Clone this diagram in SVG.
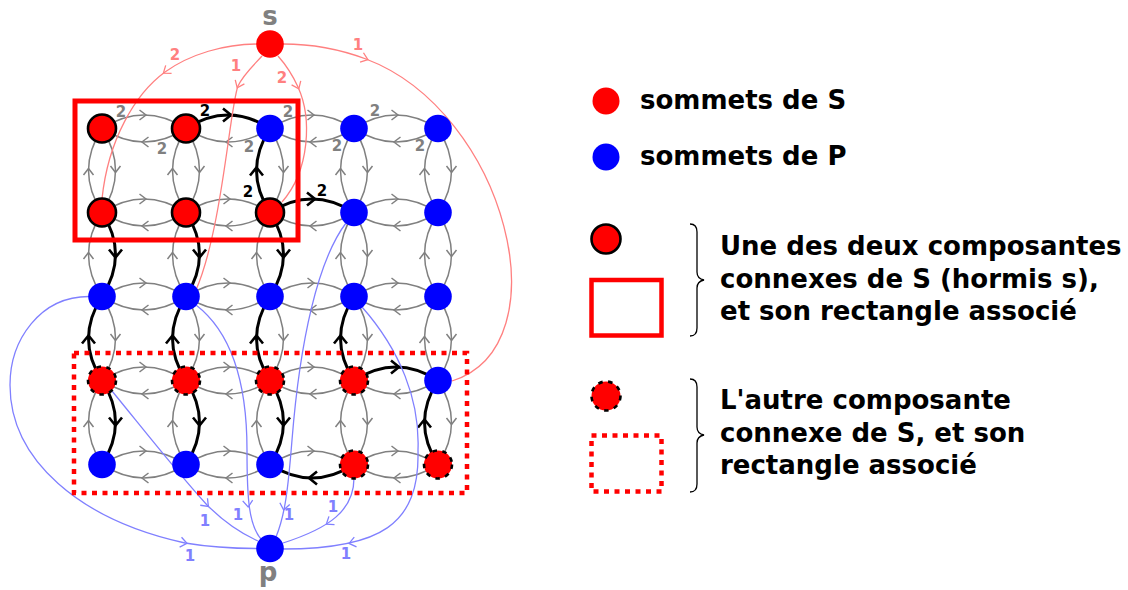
<svg xmlns="http://www.w3.org/2000/svg" xmlns:xlink="http://www.w3.org/1999/xlink" width="1128" height="590" viewBox="0 0 1128 590">
<style>
text{font-family:"DejaVu Sans","Liberation Sans",sans-serif;font-weight:bold}
.g{fill:none;stroke:#808080;stroke-width:1.5;marker-mid:url(#mg)}
.k{fill:none;stroke:#000;stroke-width:3;marker-mid:url(#mk)}
.rs{fill:none;stroke:#ff8080;stroke-width:1.3}
.bs{fill:none;stroke:#8080ff;stroke-width:1.3}
.lg{font-size:15px;fill:#808080;text-anchor:middle}
.lk{font-size:15px;fill:#000;text-anchor:middle}
.lr{font-size:15px;fill:#ff8080;text-anchor:middle}
.lb{font-size:15px;fill:#8080ff;text-anchor:middle}
.red{fill:#ff0000}
.blue{fill:#0000ff}
.solid{stroke:#000;stroke-width:2.6}
.dash{stroke:#000;stroke-width:2.6;stroke-dasharray:4.5 5.5}
.big{font-size:26px;fill:#000}
.name{font-size:26px;fill:#808080;text-anchor:middle}
</style>
<defs>
<marker id="mg" viewBox="-8 -8 16 16" markerWidth="16" markerHeight="16" refX="0" refY="0" markerUnits="userSpaceOnUse" orient="auto"><path d="M-4.5,-5 L2,0 L-4.5,5" fill="none" stroke="#808080" stroke-width="1.5"/></marker>
<marker id="mk" viewBox="-10 -10 20 20" markerWidth="20" markerHeight="20" refX="0" refY="0" markerUnits="userSpaceOnUse" orient="auto"><path d="M-5,-6.5 L3,0 L-5,6.5" fill="none" stroke="#000" stroke-width="2.6"/></marker>
<path id="chev" d="M-4.5,-5 L2,0 L-4.5,5" fill="none" stroke-width="1.3"/>
</defs>
<rect width="1128" height="590" fill="#fff"/>

<g id="connectors">
<!-- row 1 horizontals -->
<path class="g" d="M102,128.5 Q123,115 144,115 Q165,115 186,128.5"/>
<path class="k" d="M186,128.5 Q207,115 228,115 Q249,115 270,128.5"/>
<path class="g" d="M270,128.5 Q291,115 312,115 Q333,115 354,128.5"/>
<path class="g" d="M354,128.5 Q375,115 396,115 Q417,115 438,128.5"/>
<path class="g" d="M186,128.5 Q165,142 144,142 Q123,142 102,128.5"/>
<path class="g" d="M270,128.5 Q249,142 228,142 Q207,142 186,128.5"/>
<path class="g" d="M354,128.5 Q333,142 312,142 Q291,142 270,128.5"/>
<path class="g" d="M438,128.5 Q417,142 396,142 Q375,142 354,128.5"/>
<!-- row 2 -->
<path class="g" d="M102,212.5 Q123,199 144,199 Q165,199 186,212.5"/>
<path class="g" d="M186,212.5 Q207,199 228,199 Q249,199 270,212.5"/>
<path class="k" d="M270,212.5 Q291,199 312,199 Q333,199 354,212.5"/>
<path class="g" d="M354,212.5 Q375,199 396,199 Q417,199 438,212.5"/>
<path class="g" d="M186,212.5 Q165,226 144,226 Q123,226 102,212.5"/>
<path class="g" d="M270,212.5 Q249,226 228,226 Q207,226 186,212.5"/>
<path class="g" d="M354,212.5 Q333,226 312,226 Q291,226 270,212.5"/>
<path class="g" d="M438,212.5 Q417,226 396,226 Q375,226 354,212.5"/>
<!-- row 3 -->
<path class="g" d="M102,296.5 Q123,283 144,283 Q165,283 186,296.5"/>
<path class="g" d="M186,296.5 Q207,283 228,283 Q249,283 270,296.5"/>
<path class="g" d="M270,296.5 Q291,283 312,283 Q333,283 354,296.5"/>
<path class="g" d="M354,296.5 Q375,283 396,283 Q417,283 438,296.5"/>
<path class="g" d="M186,296.5 Q165,310 144,310 Q123,310 102,296.5"/>
<path class="g" d="M270,296.5 Q249,310 228,310 Q207,310 186,296.5"/>
<path class="g" d="M354,296.5 Q333,310 312,310 Q291,310 270,296.5"/>
<path class="g" d="M438,296.5 Q417,310 396,310 Q375,310 354,296.5"/>
<!-- row 4 -->
<path class="g" d="M102,380.5 Q123,367 144,367 Q165,367 186,380.5"/>
<path class="g" d="M186,380.5 Q207,367 228,367 Q249,367 270,380.5"/>
<path class="g" d="M270,380.5 Q291,367 312,367 Q333,367 354,380.5"/>
<path class="k" d="M354,380.5 Q375,367 396,367 Q417,367 438,380.5"/>
<path class="g" d="M186,380.5 Q165,394 144,394 Q123,394 102,380.5"/>
<path class="g" d="M270,380.5 Q249,394 228,394 Q207,394 186,380.5"/>
<path class="g" d="M354,380.5 Q333,394 312,394 Q291,394 270,380.5"/>
<path class="g" d="M438,380.5 Q417,394 396,394 Q375,394 354,380.5"/>
<!-- row 5 -->
<path class="g" d="M102,464.5 Q123,451 144,451 Q165,451 186,464.5"/>
<path class="g" d="M186,464.5 Q207,451 228,451 Q249,451 270,464.5"/>
<path class="g" d="M270,464.5 Q291,451 312,451 Q333,451 354,464.5"/>
<path class="g" d="M354,464.5 Q375,451 396,451 Q417,451 438,464.5"/>
<path class="g" d="M186,464.5 Q165,478 144,478 Q123,478 102,464.5"/>
<path class="g" d="M270,464.5 Q249,478 228,478 Q207,478 186,464.5"/>
<path class="k" d="M354,464.5 Q333,478 312,478 Q291,478 270,464.5"/>
<path class="g" d="M438,464.5 Q417,478 396,478 Q375,478 354,464.5"/>

<!-- verticals gap 1 -->
<path class="g" d="M102,212.5 Q88.5,191.5 88.5,170.5 Q88.5,149.5 102,128.5"/>
<path class="g" d="M102,128.5 Q115.5,149.5 115.5,170.5 Q115.5,191.5 102,212.5"/>
<path class="g" d="M186,212.5 Q172.5,191.5 172.5,170.5 Q172.5,149.5 186,128.5"/>
<path class="g" d="M186,128.5 Q199.5,149.5 199.5,170.5 Q199.5,191.5 186,212.5"/>
<path class="k" d="M270,212.5 Q256.5,191.5 256.5,170.5 Q256.5,149.5 270,128.5"/>
<path class="g" d="M270,128.5 Q283.5,149.5 283.5,170.5 Q283.5,191.5 270,212.5"/>
<path class="g" d="M354,212.5 Q340.5,191.5 340.5,170.5 Q340.5,149.5 354,128.5"/>
<path class="g" d="M354,128.5 Q367.5,149.5 367.5,170.5 Q367.5,191.5 354,212.5"/>
<path class="g" d="M438,212.5 Q424.5,191.5 424.5,170.5 Q424.5,149.5 438,128.5"/>
<path class="g" d="M438,128.5 Q451.5,149.5 451.5,170.5 Q451.5,191.5 438,212.5"/>
<!-- gap 2 -->
<path class="g" d="M102,296.5 Q88.5,275.5 88.5,254.5 Q88.5,233.5 102,212.5"/>
<path class="k" d="M102,212.5 Q115.5,233.5 115.5,254.5 Q115.5,275.5 102,296.5"/>
<path class="g" d="M186,296.5 Q172.5,275.5 172.5,254.5 Q172.5,233.5 186,212.5"/>
<path class="k" d="M186,212.5 Q199.5,233.5 199.5,254.5 Q199.5,275.5 186,296.5"/>
<path class="g" d="M270,296.5 Q256.5,275.5 256.5,254.5 Q256.5,233.5 270,212.5"/>
<path class="k" d="M270,212.5 Q283.5,233.5 283.5,254.5 Q283.5,275.5 270,296.5"/>
<path class="g" d="M354,296.5 Q340.5,275.5 340.5,254.5 Q340.5,233.5 354,212.5"/>
<path class="g" d="M354,212.5 Q367.5,233.5 367.5,254.5 Q367.5,275.5 354,296.5"/>
<path class="g" d="M438,296.5 Q424.5,275.5 424.5,254.5 Q424.5,233.5 438,212.5"/>
<path class="g" d="M438,212.5 Q451.5,233.5 451.5,254.5 Q451.5,275.5 438,296.5"/>
<!-- gap 3 -->
<path class="k" d="M102,380.5 Q88.5,359.5 88.5,338.5 Q88.5,317.5 102,296.5"/>
<path class="g" d="M102,296.5 Q115.5,317.5 115.5,338.5 Q115.5,359.5 102,380.5"/>
<path class="k" d="M186,380.5 Q172.5,359.5 172.5,338.5 Q172.5,317.5 186,296.5"/>
<path class="g" d="M186,296.5 Q199.5,317.5 199.5,338.5 Q199.5,359.5 186,380.5"/>
<path class="k" d="M270,380.5 Q256.5,359.5 256.5,338.5 Q256.5,317.5 270,296.5"/>
<path class="g" d="M270,296.5 Q283.5,317.5 283.5,338.5 Q283.5,359.5 270,380.5"/>
<path class="k" d="M354,380.5 Q340.5,359.5 340.5,338.5 Q340.5,317.5 354,296.5"/>
<path class="g" d="M354,296.5 Q367.5,317.5 367.5,338.5 Q367.5,359.5 354,380.5"/>
<path class="g" d="M438,380.5 Q424.5,359.5 424.5,338.5 Q424.5,317.5 438,296.5"/>
<path class="g" d="M438,296.5 Q451.5,317.5 451.5,338.5 Q451.5,359.5 438,380.5"/>
<!-- gap 4 -->
<path class="g" d="M102,464.5 Q88.5,443.5 88.5,422.5 Q88.5,401.5 102,380.5"/>
<path class="k" d="M102,380.5 Q115.5,401.5 115.5,422.5 Q115.5,443.5 102,464.5"/>
<path class="g" d="M186,464.5 Q172.5,443.5 172.5,422.5 Q172.5,401.5 186,380.5"/>
<path class="k" d="M186,380.5 Q199.5,401.5 199.5,422.5 Q199.5,443.5 186,464.5"/>
<path class="g" d="M270,464.5 Q256.5,443.5 256.5,422.5 Q256.5,401.5 270,380.5"/>
<path class="k" d="M270,380.5 Q283.5,401.5 283.5,422.5 Q283.5,443.5 270,464.5"/>
<path class="g" d="M354,464.5 Q340.5,443.5 340.5,422.5 Q340.5,401.5 354,380.5"/>
<path class="g" d="M354,380.5 Q367.5,401.5 367.5,422.5 Q367.5,443.5 354,464.5"/>
<path class="k" d="M438,464.5 Q424.5,443.5 424.5,422.5 Q424.5,401.5 438,380.5"/>
<path class="g" d="M438,380.5 Q451.5,401.5 451.5,422.5 Q451.5,443.5 438,464.5"/>

<!-- arcs from s -->
<path class="rs" d="M257,44 C225,44 190,54 165,72 C135,94 108,140 102,199"/>
<path class="rs" d="M262,56 C252,67 243,75 238,86 C230,106 222,230 196,290"/>
<path class="rs" d="M278,56 C286,65 293,76 298,87 C312,118 310,170 282,202"/>
<path class="rs" d="M283,44 C315,44 342,50 366,59 C506,112 565,345 452,381"/>
<use xlink:href="#chev" href="#chev" stroke="#ff8080" transform="translate(165,72) rotate(144)"/>
<use xlink:href="#chev" href="#chev" stroke="#ff8080" transform="translate(238,86) rotate(114)"/>
<use xlink:href="#chev" href="#chev" stroke="#ff8080" transform="translate(298,87) rotate(66)"/>
<use xlink:href="#chev" href="#chev" stroke="#ff8080" transform="translate(366,59) rotate(20)"/>

<!-- arcs into p -->
<path class="bs" d="M89,296.5 C40,296.5 10,340 10,385 C10,460 80,520 185,543 C215,548 240,548.5 257,548.5"/>
<path class="bs" d="M112,391 C140,425 175,470 207,505 C225,523 240,533 258,541"/>
<path class="bs" d="M196,305 C235,335 247,390 247,450 C247,500 249,525 261,539"/>
<path class="bs" d="M346,223 C318,260 300,340 292,440 C288,490 285,515 276,537"/>
<path class="bs" d="M354,478 C354,510 330,528 283,543"/>
<path class="bs" d="M362,307 C400,350 420,400 418,450 C420,525 380,549 283,549"/>
<use xlink:href="#chev" href="#chev" stroke="#8080ff" transform="translate(185,543) rotate(11)"/>
<use xlink:href="#chev" href="#chev" stroke="#8080ff" transform="translate(207,505) rotate(46)"/>
<use xlink:href="#chev" href="#chev" stroke="#8080ff" transform="translate(248,505) rotate(86)"/>
<use xlink:href="#chev" href="#chev" stroke="#8080ff" transform="translate(284,508) rotate(100)"/>
<use xlink:href="#chev" href="#chev" stroke="#8080ff" transform="translate(328,523) rotate(146)"/>
<use xlink:href="#chev" href="#chev" stroke="#8080ff" transform="translate(351,543) rotate(167)"/>

<!-- capacity labels -->
<text class="lg" x="121" y="117">2</text>
<text class="lg" x="162" y="154">2</text>
<text class="lk" x="205" y="115.5">2</text>
<text class="lg" x="249" y="152">2</text>
<text class="lg" x="288" y="117">2</text>
<text class="lg" x="337" y="150.5">2</text>
<text class="lg" x="375" y="115.5">2</text>
<text class="lg" x="420" y="150.5">2</text>
<text class="lk" x="248" y="197">2</text>
<text class="lk" x="322" y="195.5">2</text>
<text class="lr" x="175" y="59.5">2</text>
<text class="lr" x="236" y="71">1</text>
<text class="lr" x="282" y="83">2</text>
<text class="lr" x="358" y="49.5">1</text>
<text class="lb" x="190" y="561">1</text>
<text class="lb" x="205" y="526">1</text>
<text class="lb" x="238" y="520">1</text>
<text class="lb" x="289" y="520">1</text>
<text class="lb" x="333" y="511.5">1</text>
<text class="lb" x="346" y="558.5">1</text>
</g>

<g id="rect-solid"><rect x="75" y="101" width="223" height="139" fill="none" stroke="#ff0000" stroke-width="5"/></g>
<g id="rect-dotted"><rect x="74" y="353" width="393" height="140" fill="none" stroke="#ff0000" stroke-width="4.5" stroke-dasharray="5 5.5"/></g>

<g id="s"><circle class="red" cx="270" cy="44" r="13.8"/><text class="name" x="270" y="25">s</text></g>
<g id="p"><circle class="blue" cx="270" cy="548.5" r="13.8"/><text class="name" x="268" y="581">p</text></g>

<g id="n11"><circle class="red solid" cx="102" cy="128.5" r="14"/></g>
<g id="n12"><circle class="red solid" cx="186" cy="128.5" r="14"/></g>
<g id="n13"><circle class="blue" cx="270" cy="128.5" r="13.8"/></g>
<g id="n14"><circle class="blue" cx="354" cy="128.5" r="13.8"/></g>
<g id="n15"><circle class="blue" cx="438" cy="128.5" r="13.8"/></g>
<g id="n21"><circle class="red solid" cx="102" cy="212.5" r="14"/></g>
<g id="n22"><circle class="red solid" cx="186" cy="212.5" r="14"/></g>
<g id="n23"><circle class="red solid" cx="270" cy="212.5" r="14"/></g>
<g id="n24"><circle class="blue" cx="354" cy="212.5" r="13.8"/></g>
<g id="n25"><circle class="blue" cx="438" cy="212.5" r="13.8"/></g>
<g id="n31"><circle class="blue" cx="102" cy="296.5" r="13.8"/></g>
<g id="n32"><circle class="blue" cx="186" cy="296.5" r="13.8"/></g>
<g id="n33"><circle class="blue" cx="270" cy="296.5" r="13.8"/></g>
<g id="n34"><circle class="blue" cx="354" cy="296.5" r="13.8"/></g>
<g id="n35"><circle class="blue" cx="438" cy="296.5" r="13.8"/></g>
<g id="n41"><circle class="red dash" cx="102" cy="380.5" r="14"/></g>
<g id="n42"><circle class="red dash" cx="186" cy="380.5" r="14"/></g>
<g id="n43"><circle class="red dash" cx="270" cy="380.5" r="14"/></g>
<g id="n44"><circle class="red dash" cx="354" cy="380.5" r="14"/></g>
<g id="n45"><circle class="blue" cx="438" cy="380.5" r="13.8"/></g>
<g id="n51"><circle class="blue" cx="102" cy="464.5" r="13.8"/></g>
<g id="n52"><circle class="blue" cx="186" cy="464.5" r="13.8"/></g>
<g id="n53"><circle class="blue" cx="270" cy="464.5" r="13.8"/></g>
<g id="n54"><circle class="red dash" cx="354" cy="464.5" r="14"/></g>
<g id="n55"><circle class="red dash" cx="438" cy="464.5" r="14"/></g>

<g id="legend">
<circle class="red" cx="606" cy="101" r="13.5"/>
<text class="big" x="640" y="109">sommets de S</text>
<circle class="blue" cx="606" cy="157" r="13.5"/>
<text class="big" x="640" y="165">sommets de P</text>
<circle class="red solid" cx="606" cy="239" r="14.5"/>
<rect x="591.5" y="280" width="70" height="55.5" fill="none" stroke="#ff0000" stroke-width="4.5"/>
<path d="M690,224 C695,224 697,227 697,232 L697,272 C697,277 699,279 704,280 C699,281 697,283 697,288 L697,328 C697,333 695,336 690,336" fill="none" stroke="#000" stroke-width="1.3"/>
<text class="big" x="720" y="255">Une des deux composantes</text>
<text class="big" x="720" y="288">connexes de S (hormis s),</text>
<text class="big" x="720" y="320">et son rectangle associé</text>
<circle class="red dash" cx="606" cy="396" r="14.5"/>
<rect x="591.5" y="435.5" width="70" height="56" fill="none" stroke="#ff0000" stroke-width="4.5" stroke-dasharray="5 5.5"/>
<path d="M690,379 C695,379 697,382 697,387 L697,427 C697,432 699,434 704,435 C699,436 697,438 697,443 L697,484 C697,489 695,492 690,492" fill="none" stroke="#000" stroke-width="1.3"/>
<text class="big" x="720" y="409">L'autre composante</text>
<text class="big" x="720" y="442">connexe de S, et son</text>
<text class="big" x="720" y="474">rectangle associé</text>
</g>
</svg>
